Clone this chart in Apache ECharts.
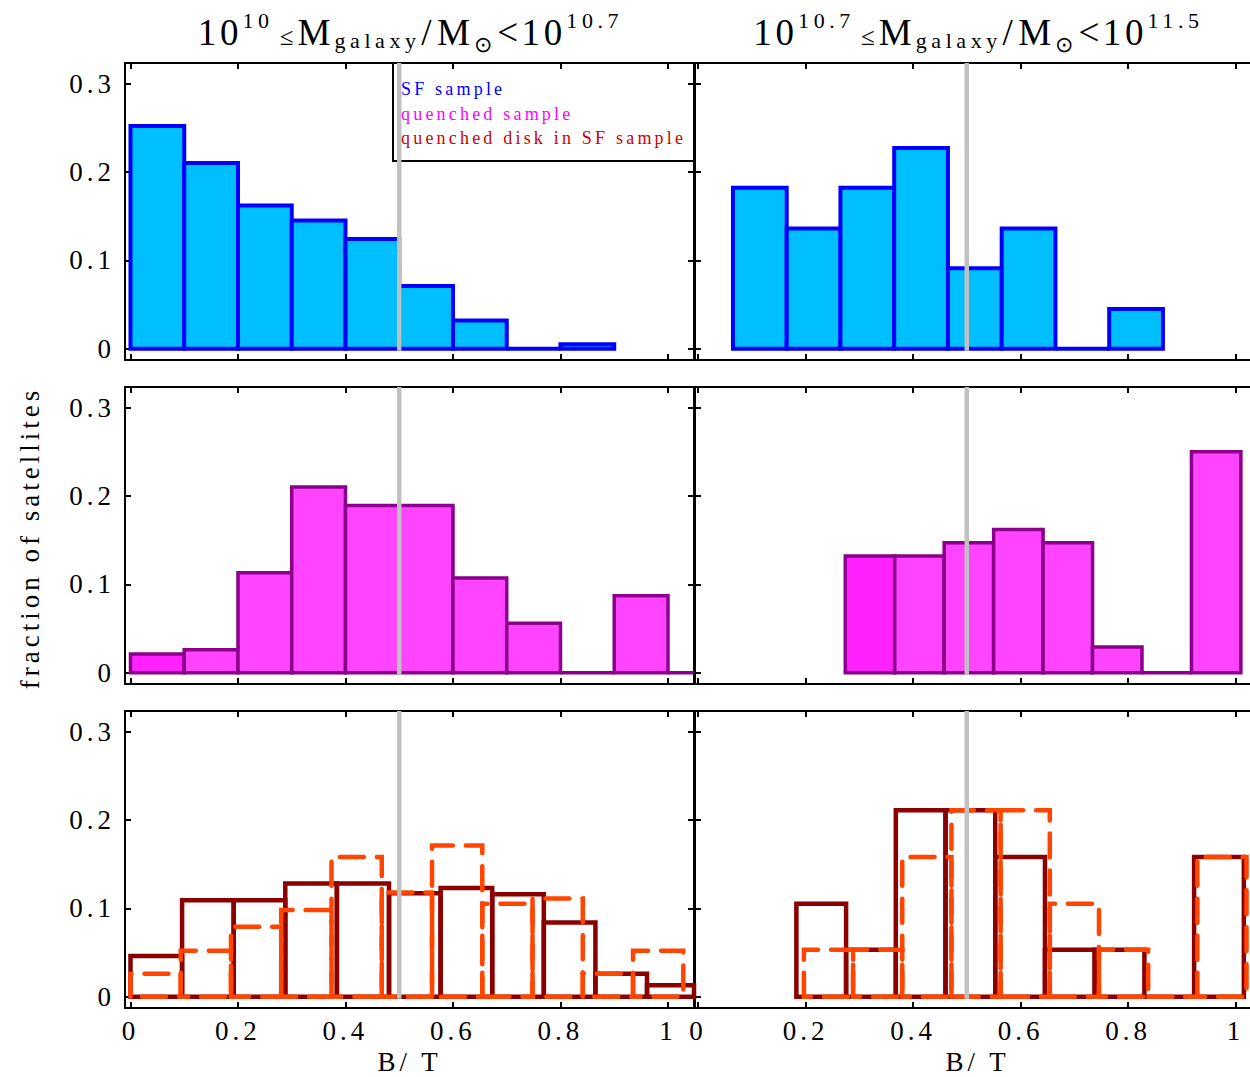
<!DOCTYPE html>
<html>
<head>
<meta charset="utf-8">
<script src="https://cdn.jsdelivr.net/npm/echarts@6/dist/echarts.min.js"></script>
<style>
  html, body { margin: 0; padding: 0; background: #fff; }
  #chart { width: 1250px; height: 1077px; }
</style>
</head>
<body>
<div id="chart"></div>
<script>
// ---- tick values ----
const fracTicks = [0, 0.1, 0.2, 0.3];
const btTicks = [0, 0.2, 0.4, 0.6, 0.8, 1];

// B/T value separating disk- and bulge-dominated systems
const btDivide = 0.5;

// ---- histograms: bin edges (B/T) and fraction of satellites per bin ----
// 10^10 <= M < 10^10.7, star-forming
const sfLowEdges = [0, 0.1, 0.2, 0.3, 0.4, 0.5, 0.6, 0.7, 0.8, 0.9];
const sfLowFrac  = [0.252, 0.210, 0.162, 0.145, 0.124, 0.071, 0.032, 0, 0.005];
// 10^10.7 <= M < 10^11.5, star-forming
const sfHighEdges = [0.065, 0.165, 0.265, 0.365, 0.465, 0.565, 0.665, 0.765, 0.865];
const sfHighFrac  = [0.182, 0.136, 0.182, 0.227, 0.091, 0.136, 0, 0.045];
// 10^10 <= M < 10^10.7, quenched
const qLowEdges = [0, 0.1, 0.2, 0.3, 0.4, 0.5, 0.6, 0.7, 0.8, 0.9, 1.0, 1.1];
const qLowFrac  = [0.021, 0.026, 0.113, 0.210, 0.189, 0.189, 0.107, 0.056, 0, 0.087, 0];
// 10^10.7 <= M < 10^11.5, quenched
const qHighEdges = [0.274, 0.366, 0.458, 0.550, 0.642, 0.734, 0.826, 0.918, 1.010];
const qHighFrac  = [0.132, 0.132, 0.147, 0.162, 0.147, 0.029, 0, 0.250];
// 10^10 <= M < 10^10.7, quenched disks (solid) and SF sample (dashed)
const qdLowEdges = [0, 0.096, 0.192, 0.288, 0.384, 0.481, 0.577, 0.673, 0.769, 0.865, 0.961, 1.057];
const qdLowFrac  = [0.046, 0.109, 0.109, 0.128, 0.128, 0.117, 0.123, 0.116, 0.084, 0.026, 0.013];
const sfdLowEdges = [0, 0.0935, 0.187, 0.2805, 0.374, 0.4675, 0.561, 0.6545, 0.748, 0.8415, 0.935, 1.0285];
const sfdLowFrac  = [0.026, 0.052, 0.079, 0.098, 0.158, 0.118, 0.171, 0.105, 0.111, 0.026, 0.052];
// 10^10.7 <= M < 10^11.5, quenched disks (solid) and SF sample (dashed)
const qdHighEdges = [0.183, 0.2755, 0.368, 0.4605, 0.553, 0.6455, 0.738, 0.8305, 0.923, 1.0155];
const qdHighFrac  = [0.105, 0.053, 0.211, 0.211, 0.158, 0.053, 0.053, 0, 0.158];
const sfdHighEdges = [0.197, 0.2885, 0.380, 0.4715, 0.563, 0.6545, 0.746, 0.8375, 0.929, 1.0205];
const sfdHighFrac  = [0.053, 0.053, 0.158, 0.211, 0.211, 0.105, 0.053, 0, 0.158];

// ---- texts ----
const titleLowTokens  = ['10', '10',   '\u2264', 'M', 'galaxy', '/', 'M', '\u2299', '<10', '10.7'];
const titleHighTokens = ['10', '10.7', '\u2264', 'M', 'galaxy', '/', 'M', '\u2299', '<10', '11.5'];
const legendLabels = ['SF sample', 'quenched sample', 'quenched disk in SF sample'];
const yName = 'fraction of satellites';
const xName = 'B/ T';

// ---- styling ----
const FONT = 'Liberation Serif';
const SIZE_BIG = 37, SIZE_REL = 25, SIZE_SMALL = 22, SIZE_LABEL = 27, SIZE_LEGEND = 18;
const SPACING = {};
SPACING[SIZE_BIG] = 3.6; SPACING[SIZE_REL] = 2; SPACING[SIZE_SMALL] = 4.6;
SPACING[SIZE_LABEL] = 4; SPACING[SIZE_LEGEND] = 3.2;

(function addLetterSpacing() {
  let css = '';
  Object.keys(SPACING).forEach(function (s) {
    css += '#chart text[style*="font-size:' + s + 'px"],#chart text[style*="font-size: ' + s + 'px"]{letter-spacing:' + SPACING[s] + 'px}\n';
  });
  const el = document.createElement('style');
  el.textContent = css;
  document.head.appendChild(el);
})();

const COLORS = {
  sfFill: '#00bfff', sfStroke: '#0000ff',
  qFill: '#ff44ff', qFillFirst: '#ff22ff', qStroke: '#8b008b',
  qd: '#8b0000', sfd: '#ff4500', divide: '#c0c0c0',
  legend: ['#0000ff', '#ff00ff', '#cc0000']
};

// ---- panel layout ----
const COL_LEFT = [125, 695];
const COL_SPAN = [569, 565];      // full frame width of each column (right one runs past the page edge)
const COL_WIDTH = [569, 555];     // drawn part inside the page
const ROW_TOP = [63, 387, 711];
const ROW_HEIGHT = 297;
const X_SCALE = 537.5;            // pixels per unit of B/T
const X_MIN = [-0.0102, -0.0056];
const Y_RANGE = [-0.0128, 0.3232];

const grids = [], xAxes = [], yAxes = [];
for (let r = 0; r < 3; r++) {
  for (let c = 0; c < 2; c++) {
    const gi = grids.length;
    grids.push({ left: COL_LEFT[c], top: ROW_TOP[r], width: COL_WIDTH[c], height: ROW_HEIGHT });
    const xMin = X_MIN[c], xMax = X_MIN[c] + COL_WIDTH[c] / X_SCALE;
    const line = { show: true, onZero: false, lineStyle: { color: '#000', width: 2 } };
    const xTick = { show: true, inside: true, length: 6, customValues: btTicks, lineStyle: { color: '#000', width: 2 } };
    const yTick = { show: true, inside: true, length: 6, customValues: fracTicks, lineStyle: { color: '#000', width: 2 } };
    const labelFont = { fontSize: SIZE_LABEL, fontFamily: FONT, color: '#000' };
    const nameShift = (COL_SPAN[c] - COL_WIDTH[c]);
    xAxes.push({
      type: 'value', gridIndex: gi, position: 'bottom', min: xMin, max: xMax,
      splitLine: { show: false }, axisLine: line, axisTick: xTick,
      axisLabel: Object.assign({ show: r === 2, customValues: btTicks, margin: 9, formatter: function (v) { return String(v); } }, labelFont),
      name: r === 2 ? xName : '', nameLocation: 'middle', nameGap: 40,
      nameTextStyle: Object.assign({ padding: [0, 0, 0, nameShift] }, labelFont)
    });
    xAxes.push({
      type: 'value', gridIndex: gi, position: 'top', min: xMin, max: xMax,
      splitLine: { show: false }, axisLine: line, axisTick: xTick, axisLabel: { show: false }
    });
    yAxes.push({
      type: 'value', gridIndex: gi, position: 'left', min: Y_RANGE[0], max: Y_RANGE[1],
      splitLine: { show: false }, axisLine: line, axisTick: yTick,
      axisLabel: Object.assign({ show: c === 0, customValues: fracTicks, margin: 10, formatter: function (v) { return String(v); } }, labelFont)
    });
    yAxes.push({
      type: 'value', gridIndex: gi, position: 'right', min: Y_RANGE[0], max: Y_RANGE[1],
      splitLine: { show: false },
      axisLine: c === 0 ? line : { show: false },
      axisTick: c === 0 ? yTick : { show: false },
      axisLabel: { show: false }
    });
  }
}

function bins(edges, fracs) {
  return fracs.map(function (f, i) { return [edges[i], edges[i + 1], f]; });
}

// each bin is drawn as a closed box from zero up to its fraction, clipped at the frame
function boxRenderer(styleFor) {
  return function (params, api) {
    const cs = params.coordSys;
    const a = api.coord([api.value(0), 0]);
    const b = api.coord([api.value(1), api.value(2)]);
    const x0 = Math.max(a[0], cs.x);
    const x1 = Math.min(b[0], cs.x + cs.width);
    return {
      type: 'polygon',
      shape: { points: [[x0, a[1]], [x0, b[1]], [x1, b[1]], [x1, a[1]]] },
      style: styleFor(params.dataIndex)
    };
  };
}

function histSeries(gi, data, styleFor, z) {
  return {
    type: 'custom', xAxisIndex: gi * 2, yAxisIndex: gi * 2, z: z || 2,
    silent: true, animation: false,
    encode: { x: [0, 1], y: 2 },
    data: data, renderItem: boxRenderer(styleFor)
  };
}

const sfStyle = function () { return { fill: COLORS.sfFill, stroke: COLORS.sfStroke, lineWidth: 4 }; };
const qStyle = function (i) { return { fill: i === 0 ? COLORS.qFillFirst : COLORS.qFill, stroke: COLORS.qStroke, lineWidth: 3.5 }; };
const qdStyle = function () { return { fill: 'none', stroke: COLORS.qd, lineWidth: 4.5, lineJoin: 'miter' }; };
const sfdStyle = function () { return { fill: 'none', stroke: COLORS.sfd, lineWidth: 4.5, lineDash: [24, 13], lineCap: 'round' }; };

const series = [
  histSeries(0, bins(sfLowEdges, sfLowFrac), sfStyle),
  histSeries(1, bins(sfHighEdges, sfHighFrac), sfStyle),
  histSeries(2, bins(qLowEdges, qLowFrac), qStyle),
  histSeries(3, bins(qHighEdges, qHighFrac), qStyle),
  histSeries(4, bins(qdLowEdges, qdLowFrac), qdStyle, 2),
  histSeries(4, bins(sfdLowEdges, sfdLowFrac), sfdStyle, 3),
  histSeries(5, bins(qdHighEdges, qdHighFrac), qdStyle, 2),
  histSeries(5, bins(sfdHighEdges, sfdHighFrac), sfdStyle, 3)
];

// vertical marker at the B/T divide, from zero up to the top of each panel
for (let gi = 0; gi < 6; gi++) {
  series.push({
    type: 'custom', xAxisIndex: gi * 2, yAxisIndex: gi * 2, z: 6, silent: true, animation: false,
    data: [[btDivide]], encode: { x: 0 },
    renderItem: function (params, api) {
      const p = api.coord([api.value(0), 0]);
      return {
        type: 'line',
        shape: { x1: p[0], y1: p[1] + 2, x2: p[0], y2: params.coordSys.y },
        style: { stroke: COLORS.divide, lineWidth: 4.5 }
      };
    }
  });
}

// ---- titles built from big / superscript / subscript pieces ----
const measureCtx = document.createElement('canvas').getContext('2d');
function advance(text, size) {
  measureCtx.font = size + 'px "' + FONT + '"';
  return measureCtx.measureText(text).width + Array.from(text).length * SPACING[size];
}
// role of each title piece: size, baseline shift and gap before it
const TITLE_ROLES = [
  { size: SIZE_BIG, base: 0, gap: 0 },
  { size: SIZE_SMALL, base: -17, gap: 0.5 },
  { size: SIZE_REL, base: 0, gap: 6 },
  { size: SIZE_BIG, base: 0, gap: 2 },
  { size: SIZE_SMALL, base: 3, gap: 0.5 },
  { size: SIZE_BIG, base: 0, gap: 0.5 },
  { size: SIZE_BIG, base: 0, gap: 2 },
  { size: SIZE_SMALL, base: 7, gap: 0.5 },
  { size: SIZE_BIG, base: 0, gap: 0.5 },
  { size: SIZE_SMALL, base: -17, gap: 0.5 }
];
const TITLE_BASELINE = 45;

function titleElements(tokens, centerX) {
  const xs = [];
  let x = 0;
  tokens.forEach(function (t, i) {
    x += TITLE_ROLES[i].gap;
    xs.push(x);
    x += advance(t, TITLE_ROLES[i].size);
  });
  const start = centerX - x / 2 + 1;
  return tokens.map(function (t, i) {
    const role = TITLE_ROLES[i];
    return {
      type: 'text', z: 10, silent: true,
      x: start + xs[i],
      y: TITLE_BASELINE + role.base - 0.3375 * role.size,
      style: { text: t, fontSize: role.size, fontFamily: FONT, fill: '#000', align: 'left', verticalAlign: 'middle' }
    };
  });
}

const graphics = []
  .concat(titleElements(titleLowTokens, COL_LEFT[0] + COL_SPAN[0] / 2))
  .concat(titleElements(titleHighTokens, COL_LEFT[1] + COL_SPAN[1] / 2));

// legend box in the upper left panel
graphics.push({
  type: 'polyline', z: 4, silent: true,
  shape: { points: [[393, ROW_TOP[0]], [393, 161], [COL_LEFT[0] + COL_WIDTH[0], 161]] },
  style: { stroke: '#000', lineWidth: 2, fill: null }
});
legendLabels.forEach(function (t, i) {
  graphics.push({
    type: 'text', z: 4, silent: true, x: 401, y: 89 + i * 24.5,
    style: { text: t, fontSize: SIZE_LEGEND, fontFamily: FONT, fill: COLORS.legend[i], align: 'left', verticalAlign: 'middle' }
  });
});

// shared y-axis title
graphics.push({
  type: 'text', z: 4, silent: true, x: 30, y: 538, rotation: Math.PI / 2,
  style: { text: yName, fontSize: SIZE_LABEL, fontFamily: FONT, fill: '#000', align: 'center', verticalAlign: 'middle' }
});

const chart = echarts.init(document.getElementById('chart'), null, { renderer: 'svg', width: 1250, height: 1077 });
chart.setOption({
  backgroundColor: '#fff',
  animation: false,
  grid: grids,
  xAxis: xAxes,
  yAxis: yAxes,
  series: series,
  graphic: { elements: graphics }
});
</script>
</body>
</html>
